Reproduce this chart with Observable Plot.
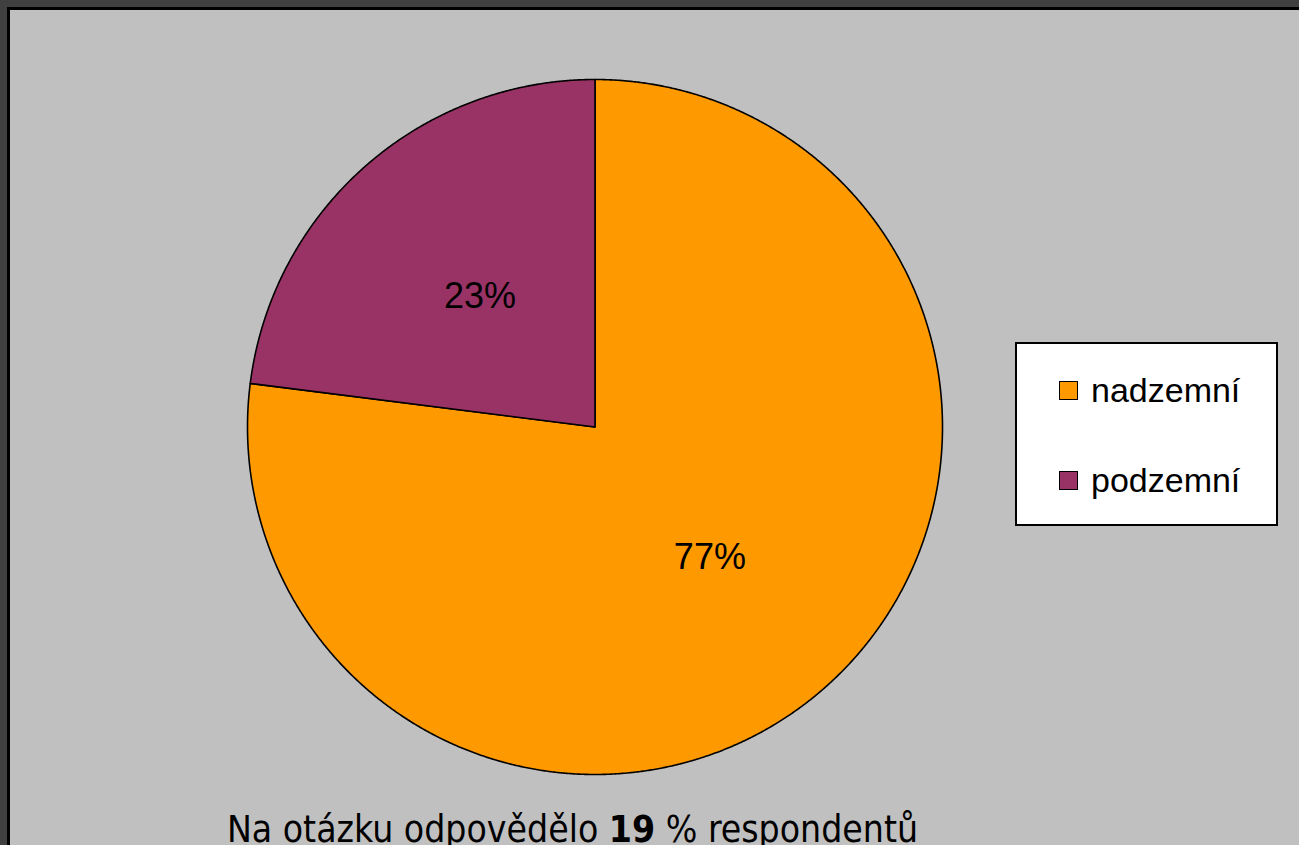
<!DOCTYPE html>
<html>
<head>
<meta charset="utf-8">
<script src="https://cdn.jsdelivr.net/npm/d3@7"></script>
<script src="https://cdn.jsdelivr.net/npm/@observablehq/plot@0.6"></script>
<style>
  html, body { margin: 0; padding: 0; width: 1299px; height: 845px; overflow: hidden; background: #404040; }
  #frame { position: absolute; left: 7px; top: 7px; width: 1310px; height: 860px; background: #c0c0c0; border-left: 3px solid #000; border-top: 3px solid #000; }
  #chart { position: absolute; left: 0; top: 0; }
  #legend { position: absolute; left: 1015px; top: 342px; width: 259px; height: 180px; background: #fff; border: 2px solid #000; font-family: "Liberation Sans", Arial, sans-serif; font-size: 34px; color: #000; }
  .item { position: absolute; left: 42px; height: 40px; display: flex; align-items: center; }
  .sw { width: 17px; height: 17px; border: 1.5px solid #000; margin-right: 13px; }
  #caption { position: absolute; left: 0; width: 1145px; top: 810px; line-height: 40px; text-align: center; font-family: "DejaVu Sans Condensed", "DejaVu Sans", sans-serif; font-size: 37px; color: #000; white-space: nowrap; }
</style>
</head>
<body>
<div id="frame"></div>
<div id="chart"></div>
<div id="legend"></div>
<div id="caption"></div>
<script>
const categories = ["nadzemní", "podzemní"];
const values = [77, 23];
const labels = ["77%", "23%"];
const colors = ["#ff9900", "#993366"];
const captionParts = ["Na otázku odpovědělo ", "19", " % respondentů"];

const arcs = d3.pie().sort(null).value(d => d)(values);
const slicePoints = [];
arcs.forEach((a, i) => {
  const n = Math.max(2, Math.ceil((a.endAngle - a.startAngle) / 0.004));
  slicePoints.push({cat: categories[i], x: 0, y: 0});
  for (let k = 0; k <= n; k++) {
    const t = a.startAngle + (a.endAngle - a.startAngle) * k / n;
    slicePoints.push({cat: categories[i], x: Math.sin(t), y: Math.cos(t)});
  }
  slicePoints.push({cat: categories[i], x: 0, y: 0});
});
const labelData = arcs.map((a, i) => {
  const m = (a.startAngle + a.endAngle) / 2;
  return {label: labels[i], x: 0.5 * Math.sin(m), y: 0.5 * Math.cos(m)};
});

const plot = Plot.plot({
  width: 1299,
  height: 845,
  style: {background: "transparent"},
  x: {domain: [-1, 1], range: [247, 942], axis: null},
  y: {domain: [-1, 1], range: [774, 79], axis: null},
  color: {domain: categories, range: colors},
  marks: [
    Plot.line(slicePoints, {x: "x", y: "y", z: "cat", fill: "cat", stroke: "#000", strokeWidth: 1.6, strokeLinejoin: "round", curve: "linear", clip: false}),
    Plot.text(labelData, {x: "x", y: "y", text: "label", fontSize: 36, fontFamily: "Liberation Sans, Arial, sans-serif", fill: "#000"})
  ]
});
document.getElementById("chart").appendChild(plot);

const legend = document.getElementById("legend");
const tops = [26, 116];
categories.forEach((c, i) => {
  const it = document.createElement("div");
  it.className = "item";
  it.style.top = tops[i] + "px";
  const sw = document.createElement("div");
  sw.className = "sw";
  sw.style.background = colors[i];
  const tx = document.createElement("span");
  tx.textContent = c;
  it.appendChild(sw);
  it.appendChild(tx);
  legend.appendChild(it);
});

const cap = document.getElementById("caption");
cap.appendChild(document.createTextNode(captionParts[0]));
const b = document.createElement("b");
b.textContent = captionParts[1];
cap.appendChild(b);
cap.appendChild(document.createTextNode(captionParts[2]));
</script>
</body>
</html>
